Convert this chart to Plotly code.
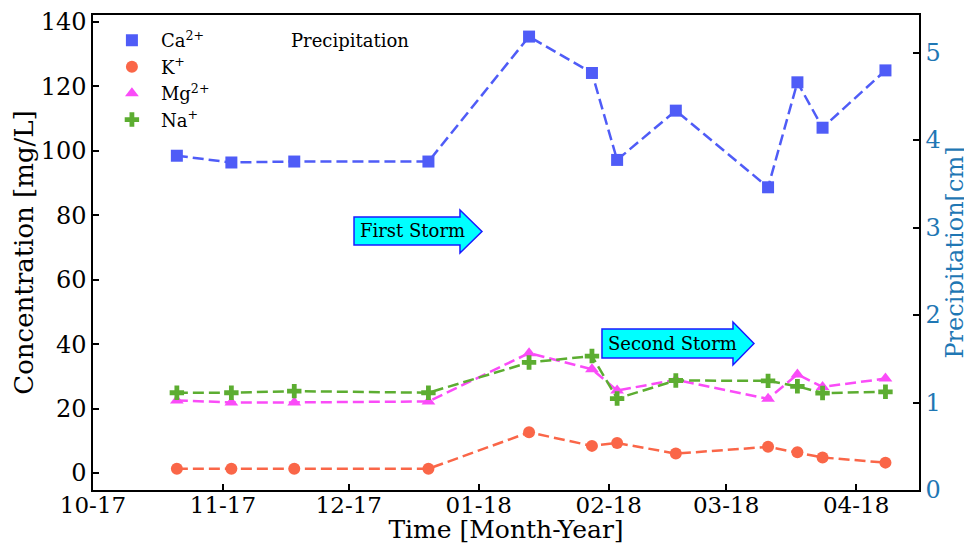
import plotly.graph_objects as go

dates = ["2017-10-21", "2017-11-03", "2017-11-18", "2017-12-20", "2018-01-13", "2018-01-28",
         "2018-02-03", "2018-02-17", "2018-03-11", "2018-03-18", "2018-03-24", "2018-04-08"]
ca = [98.5, 96.4, 96.7, 96.7, 135.5, 124.2, 97.2, 112.5, 88.7, 121.3, 107.2, 125.0]
k = [1.3, 1.3, 1.3, 1.3, 12.6, 8.4, 9.3, 6.0, 8.1, 6.4, 4.8, 3.2]
mg = [22.5, 21.9, 21.9, 22.2, 37.2, 32.2, 25.6, 28.9, 23.0, 30.6, 26.7, 29.3]
na = [24.9, 24.9, 25.4, 24.9, 34.3, 36.3, 23.1, 28.7, 28.6, 26.9, 24.8, 25.2]

FONT = "DejaVu Serif"
OFF = 8  # page body margin
W, H = 972 - OFF, 544 - OFF
L, R, T, B = 93 - OFF, 53, 15 - OFF, 54
PW, PH = W - L - R, H - T - B

def px(x, y):
    # x, y given in page pixels of the 972x544 window
    return (x - OFF - L) / PW, (H - B - (y - OFF)) / PH

def arrow_path(x0, x1, xh, ytop, ybot, htop, hbot, ymid):
    pts = [(x0, ytop), (xh, ytop), (xh, htop), (x1, ymid), (xh, hbot), (xh, ybot), (x0, ybot)]
    s = ""
    for i, (a, b) in enumerate(pts):
        u, v = px(a, b)
        s += ("M" if i == 0 else "L") + f"{u:.4f},{v:.4f} "
    return s + "Z"

fig = go.Figure()
series = [
    ("Ca<sup>2+</sup>", ca, "#4f5cf7", "square"),
    ("K<sup>+</sup>", k, "#fa6648", "circle"),
    ("Mg<sup>2+</sup>", mg, "#fa4cf8", "triangle-up"),
    ("Na<sup>+</sup>", na, "#5cad31", "cross"),
]
for i, (name, vals, col, sym) in enumerate(series):
    fig.add_trace(go.Scatter(
        x=dates, y=vals, name=name, mode="lines+markers",
        line=dict(color=col, width=2.5, dash="11px,5px"),
        marker=dict(color=col, symbol=sym, size=12, line=dict(width=0)),
        showlegend=False,
    ))
for i, (name, vals, col, sym) in enumerate(series):
    fig.add_trace(go.Scatter(
        x=[None], y=[None], name=name, mode="markers",
        marker=dict(color=col, symbol=sym, size=12, line=dict(width=0)),
        legendgroup=f"g{i}", showlegend=True,
    ))
fig.add_trace(go.Scatter(x=[None], y=[None], yaxis="y2", showlegend=False, mode="markers"))

fig.update_layout(
    width=W, height=H,
    margin=dict(l=L, r=R, t=T, b=B, autoexpand=False),
    plot_bgcolor="white", paper_bgcolor="white",
    font=dict(family=FONT, size=22, color="black"),
    showlegend=True,
    legend=dict(x=0.012, y=0.985, xanchor="left", yanchor="top",
                bgcolor="rgba(0,0,0,0)", font=dict(family=FONT, size=18),
                traceorder="grouped", tracegroupgap=0, itemwidth=48),
    xaxis=dict(
        type="date", range=["2017-10-01", "2018-04-16"],
        tick0="2017-10-01", dtick="M1", tickformat="%m-%y",
        ticks="inside", ticklen=6, tickwidth=2, tickcolor="black",
        showline=True, linecolor="black", linewidth=1.5, mirror=True,
        showgrid=False, zeroline=False, automargin=False,
        ticklabelstandoff=-6,
        title=dict(text="Time [Month-Year]", standoff=0, font=dict(size=25)),
        tickfont=dict(size=23),
    ),
    yaxis=dict(
        range=[-5.3, 142.2], tickvals=[0, 20, 40, 60, 80, 100, 120, 140],
        ticks="inside", ticklen=6, tickwidth=2, tickcolor="black",
        showline=True, linecolor="black", linewidth=1.5,
        showgrid=False, zeroline=False, automargin=False,
        title=dict(text="Concentration [mg/L]", standoff=0, font=dict(size=26)),
        tickfont=dict(size=24),
    ),
    yaxis2=dict(
        overlaying="y", side="right", range=[0, 5.43], tickvals=[0, 1, 2, 3, 4, 5],
        ticks="inside", ticklen=6, tickwidth=2, tickcolor="black",
        showline=True, linecolor="black", linewidth=1.5,
        showgrid=False, zeroline=False, automargin=False,
        tickfont=dict(size=24, color="#1f77b4"),
        title=dict(text="Precipitation[cm]", standoff=2, font=dict(size=24, color="#1f77b4")),
    ),
)

# storm arrows
fig.add_shape(type="path", xref="paper", yref="paper",
              path=arrow_path(354, 482, 460, 217, 245, 210, 253, 231.5),
              fillcolor="#00ffff", line=dict(color="#1a1aff", width=1.5), layer="above")
fig.add_shape(type="path", xref="paper", yref="paper",
              path=arrow_path(602, 754, 733, 329, 358, 322, 365, 343.5),
              fillcolor="#00ffff", line=dict(color="#1a1aff", width=1.5), layer="above")
ux, uy = px(412, 231)
fig.add_annotation(x=ux, y=uy, xref="paper", yref="paper", text="First Storm",
                   xanchor="center", yanchor="middle",
                   showarrow=False, font=dict(family=FONT, size=18, color="black"))
ux, uy = px(672, 343.5)
fig.add_annotation(x=ux, y=uy, xref="paper", yref="paper", text="Second Storm",
                   xanchor="center", yanchor="middle",
                   showarrow=False, font=dict(family=FONT, size=18, color="black"))
ux, uy = px(289, 40)
fig.add_annotation(x=ux, y=uy, xref="paper", yref="paper", text="Precipitation",
                   xanchor="left", yanchor="middle",
                   showarrow=False, font=dict(family=FONT, size=18, color="black"))

fig.write_html("out.html")
